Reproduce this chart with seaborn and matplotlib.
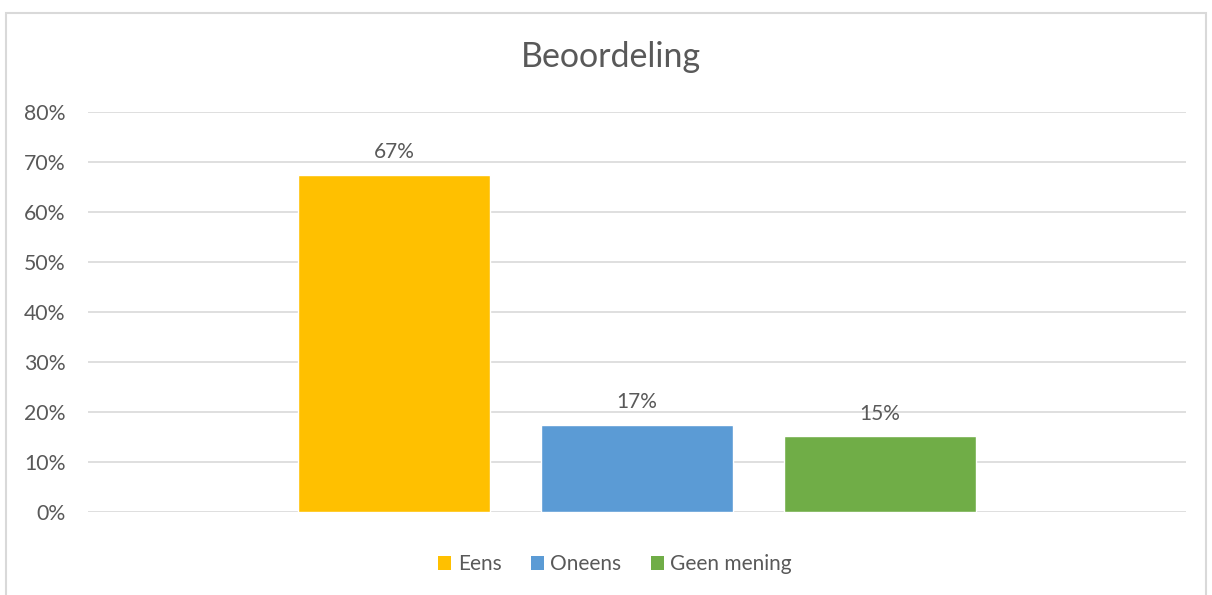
import matplotlib
matplotlib.use('Agg')
import matplotlib.pyplot as plt
from matplotlib.patches import Rectangle, Patch
from matplotlib.ticker import PercentFormatter
import seaborn as sns
import pandas as pd

# Gegevens
categories = ['Eens', 'Oneens', 'Geen mening']
values = [0.674, 0.174, 0.152]
labels = ['67%', '17%', '15%']
colors = ['#FFC000', '#5B9BD5', '#70AD47']
title = 'Beoordeling'

sns.set_theme(style='white')
plt.rcParams['font.family'] = ['Lato', 'DejaVu Sans']
text_color = '#595959'
grid_color = '#D9D9D9'

df = pd.DataFrame({'categorie': categories, 'waarde': values})

fig = plt.figure(figsize=(12.12, 5.95), dpi=100)
ax = fig.add_axes([88 / 1212, 1 - 512 / 595, 1098 / 1212, 400 / 595])

sns.barplot(data=df, x='categorie', y='waarde', hue='categorie',
            palette=colors, order=categories, hue_order=categories,
            dodge=False, width=0.79, legend=False, ax=ax, saturation=1)

# labels boven de staven
for p, lab in zip(ax.patches, labels):
    ax.annotate(lab, (p.get_x() + p.get_width() / 2, p.get_height()),
                xytext=(0, 9), textcoords='offset points',
                ha='center', va='bottom', fontsize=15, color=text_color)

ax.set_ylim(0, 0.8)
ax.set_yticks([i / 10 for i in range(9)])
ax.yaxis.set_major_formatter(PercentFormatter(1.0, decimals=0))
ax.set_xlim(1 - 549 / 243, 1 + 549 / 243)
ax.set_xticks([])
ax.set_xlabel('')
ax.set_ylabel('')
ax.grid(axis='y', color=grid_color, linewidth=1.2)
ax.set_axisbelow(True)
for s in ax.spines.values():
    s.set_visible(False)
ax.tick_params(axis='y', labelsize=15.3, labelcolor=text_color, length=0, pad=16)

fig.text(611 / 1212, 1 - 57 / 595, title, ha='center', va='center',
         fontsize=24.5, color=text_color)

handles = [Patch(facecolor=c, edgecolor='none') for c in colors]
fig.legend(handles, categories, loc='center', bbox_to_anchor=(615 / 1212, 1 - 564 / 595),
           ncol=3, frameon=False, fontsize=15, labelcolor=text_color,
           handlelength=0.65, handleheight=0.65, handletextpad=0.3, columnspacing=1.4)

# rand van het diagram
fig.add_artist(Rectangle((6 / 1212, -0.1), 1200 / 1212, 1 - 13 / 595 + 0.1,
                         transform=fig.transFigure, fill=False,
                         edgecolor=grid_color, linewidth=1.5))

fig.savefig('out.png', dpi=100)
